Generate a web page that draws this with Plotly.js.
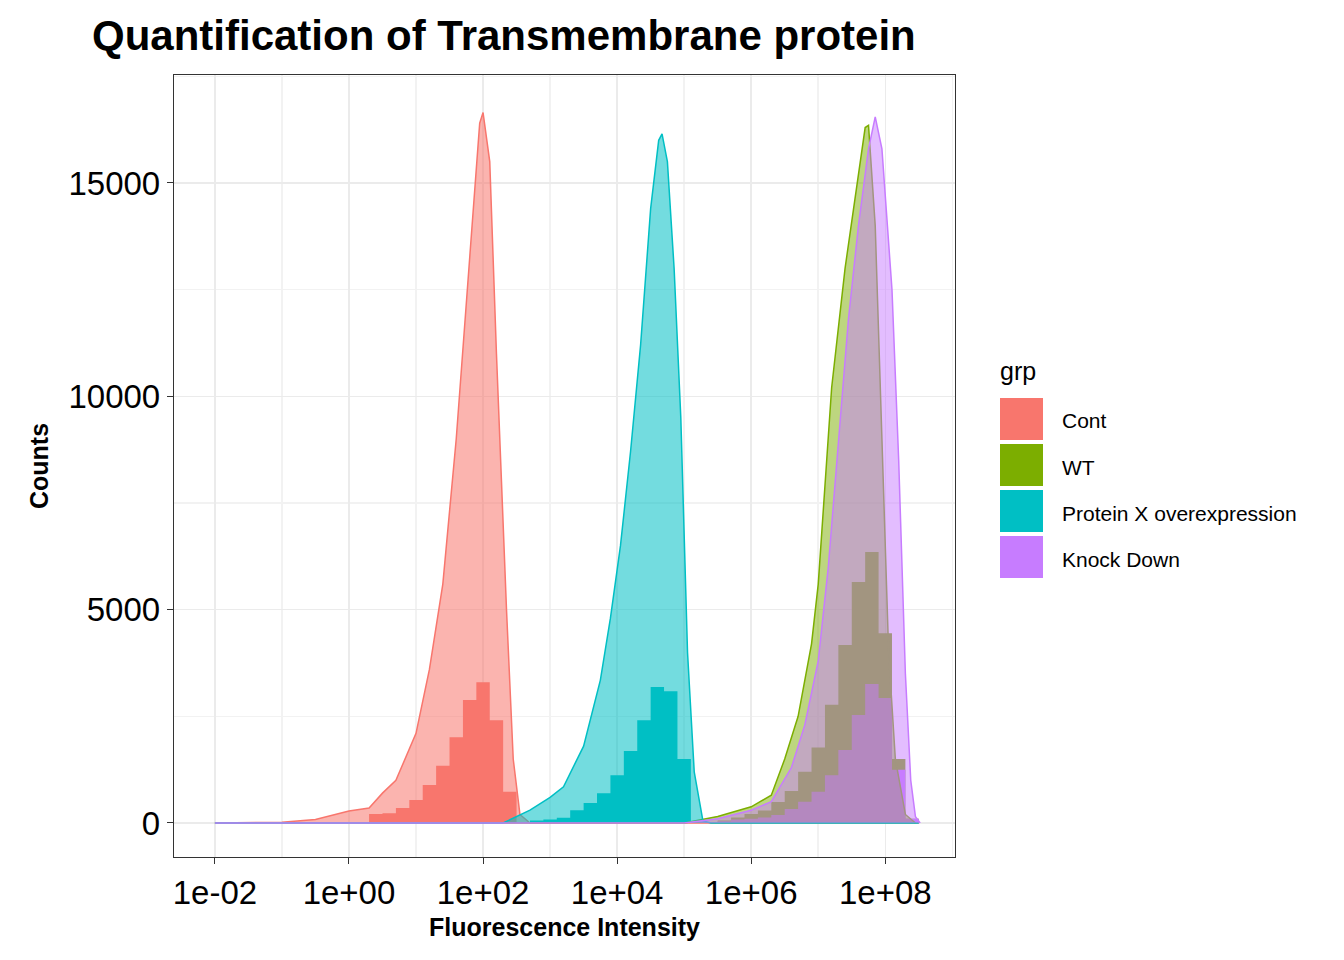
<!DOCTYPE html>
<html>
<head>
<meta charset="utf-8">
<script src="https://cdn.plot.ly/plotly-3.0.1.min.js"></script>
<style>body{margin:0;background:#fff}#plot{width:1344px;height:960px}</style>
</head>
<body>
<div id="plot"></div>
<script>
// group names + colours (ggplot default hues)
const groups = ['Cont', 'WT', 'Protein X overexpression', 'Knock Down']
const colors = ['#F8766D', '#7CAE00', '#00BFC4', '#C77CFF']
const fills = ['rgba(248,118,109,0.55)', 'rgba(124,174,0,0.5)', 'rgba(0,191,196,0.55)', 'rgba(199,124,255,0.5)']

// smoothed count curves: log10(intensity) and counts
const contLogX = [-2, -1, -0.5, 0, 0.3, 0.5, 0.7, 1.0, 1.2, 1.4, 1.6, 1.8, 1.95, 2.0, 2.1, 2.2, 2.35, 2.45, 2.55, 2.7, 8.5]
const contCounts = [0, 20, 80, 280, 350, 700, 1000, 2100, 3600, 5600, 9000, 13200, 16400, 16650, 15500, 11000, 5000, 1500, 200, 0, 0]
const wtLogX = [-2, 5.0, 5.5, 6.0, 6.3, 6.5, 6.7, 6.9, 7.0, 7.1, 7.2, 7.4, 7.55, 7.7, 7.75, 7.85, 7.95, 8.05, 8.15, 8.3, 8.45]
const wtCounts = [0, 0, 150, 380, 650, 1500, 2500, 4200, 5600, 8000, 10200, 13000, 14700, 16300, 16350, 14000, 9000, 4000, 1500, 200, 0]
const protLogX = [-2, 2.3, 2.7, 3.0, 3.2, 3.5, 3.75, 3.9, 4.05, 4.2, 4.35, 4.5, 4.62, 4.67, 4.75, 4.85, 4.95, 5.05, 5.15, 5.28, 5.4, 8.5]
const protCounts = [0, 0, 300, 600, 850, 1800, 3350, 4800, 6500, 8700, 11200, 14400, 16000, 16150, 15500, 13000, 9500, 4000, 1200, 50, 0, 0]
const kdLogX = [-2, 5.0, 5.5, 6.0, 6.3, 6.6, 6.8, 7.0, 7.15, 7.3, 7.45, 7.6, 7.75, 7.85, 7.95, 8.1, 8.2, 8.3, 8.38, 8.45, 8.52]
const kdCounts = [0, 0, 100, 300, 500, 1300, 2300, 3800, 6000, 9000, 11800, 14000, 15800, 16550, 15800, 12500, 8500, 3500, 1000, 150, 0]

// histograms: first bin edge (log10), bin width 0.2, counts per bin
const binWidth = 0.2
const contBinStart = 0.3
const contBins = [210, 230, 350, 540, 890, 1340, 2010, 2880, 3300, 2410, 730]
const wtBinStart = 5.5
const wtBins = [60, 130, 210, 290, 490, 750, 1200, 1770, 2770, 4170, 5650, 6350, 4450, 1500, 100]
const protBinStart = 2.7
const protBins = [60, 80, 120, 300, 470, 700, 1120, 1690, 2410, 3190, 3090, 1500]
const kdBinStart = 5.5
const kdBins = [40, 80, 100, 130, 190, 330, 500, 730, 1120, 1710, 2530, 3260, 2930, 1250, 100]

const curves = [[contLogX, contCounts], [wtLogX, wtCounts], [protLogX, protCounts], [kdLogX, kdCounts]]
const hists = [[contBinStart, contBins], [wtBinStart, wtBins], [protBinStart, protBins], [kdBinStart, kdBins]]

let traces = []
//bars first, translucent areas on top
hists.forEach(([start, counts], i) => {
  let x = [], y = []
  counts.forEach((c, k) => { x.push(Math.pow(10, start + k * binWidth)); y.push(c) })
  x.push(Math.pow(10, start + counts.length * binWidth)); y.push(0)
  traces.push({
    x: [x[0]].concat(x), y: [0].concat(y), type: 'scatter', mode: 'lines',
    line: { shape: 'hv', width: 0, color: colors[i] }, fill: 'tozeroy', fillcolor: colors[i],
    name: groups[i], showlegend: false, hoverinfo: 'skip',
  })
})
curves.forEach(([lx, cnt], i) => {
  traces.push({
    x: lx.map(v => Math.pow(10, v)), y: cnt, type: 'scatter', mode: 'lines',
    line: { color: colors[i], width: 1.5 }, fill: 'tozeroy', fillcolor: fills[i],
    name: groups[i], showlegend: false,
  })
})

//legend drawn by hand (ggplot-sized keys); pixel -> paper helpers
const px = v => (v - 174) / 781
const py = v => (857 - v) / 782
let shapes = [], annotations = []
groups.forEach((g, i) => {
  let top = 398 + i * 46
  shapes.push({ type: 'rect', xref: 'paper', yref: 'paper', x0: px(1000), x1: px(1043),
    y0: py(top + 42), y1: py(top), fillcolor: colors[i], line: { width: 0 } })
  annotations.push({ xref: 'paper', yref: 'paper', x: px(1060), y: py(top + 23), xanchor: 'left',
    yanchor: 'middle', text: g, showarrow: false, font: { size: 21, color: '#000' } })
})
annotations.push({ xref: 'paper', yref: 'paper', x: px(998), y: py(371), xanchor: 'left',
  yanchor: 'middle', text: 'grp', showarrow: false, font: { size: 25, color: '#000' } })

const majorVals = [0.01, 1, 100, 1e4, 1e6, 1e8]
const majorText = ['1e-02', '1e+00', '1e+02', '1e+04', '1e+06', '1e+08']
const minorVals = [0.1, 10, 1000, 1e5, 1e7, 1e9]

let layout = {
  width: 1344, height: 960,
  paper_bgcolor: '#fff', plot_bgcolor: '#fff',
  font: { family: 'Liberation Sans, Arial, sans-serif', color: '#000' },
  margin: { l: 174, r: 389, t: 75, b: 103 },
  showlegend: false,
  title: { text: '<b>Quantification of Transmembrane protein</b>', font: { size: 42 },
    x: 92 / 1344, xanchor: 'left', xref: 'container', y: 0.963, yanchor: 'middle' },
  xaxis: {
    type: 'log', range: [-2.61, 9.04], tickmode: 'array', tickvals: majorVals, ticktext: majorText,
    tickfont: { size: 33, color: '#000' }, ticks: 'outside', ticklen: 6, tickcolor: '#333',
    gridcolor: '#EBEBEB', gridwidth: 1.5, zeroline: false,
    showline: true, mirror: true, linecolor: '#333', linewidth: 1.2,
    minor: { tickmode: 'array', tickvals: minorVals, showgrid: true, gridcolor: '#F2F2F2', ticklen: 0 },
    title: { text: '<b>Fluorescence Intensity</b>', font: { size: 25 }, standoff: 8 },
  },
  yaxis: {
    range: [-797, 17531], tickmode: 'array', tickvals: [0, 5000, 10000, 15000],
    ticktext: ['0', '5000', '10000', '15000'],
    tickfont: { size: 33, color: '#000' }, ticks: 'outside', ticklen: 6, tickcolor: '#333',
    gridcolor: '#EBEBEB', gridwidth: 1.5, zeroline: false,
    showline: true, mirror: true, linecolor: '#333', linewidth: 1.2,
    minor: { tickmode: 'array', tickvals: [2500, 7500, 12500, 17500], showgrid: true, gridcolor: '#F2F2F2', ticklen: 0 },
    title: { text: '<b>Counts</b>', font: { size: 25 }, standoff: 12 },
  },
  shapes: shapes,
  annotations: annotations,
  hovermode: false,
}
Plotly.newPlot('plot', traces, layout, { displaylogo: false, staticPlot: true })
</script>
</body>
</html>
